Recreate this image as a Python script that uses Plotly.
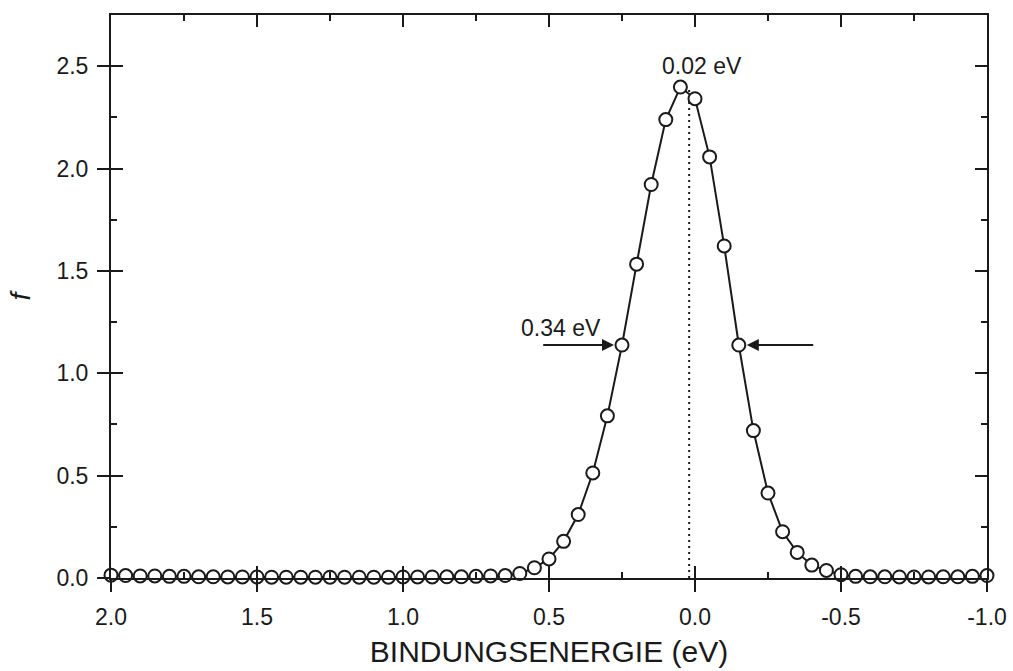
import plotly.graph_objects as go

# Binding energy grid (eV), from 2.0 down to -1.0 in 0.05 eV steps
energy = [
    2.00, 1.95, 1.90, 1.85, 1.80, 1.75, 1.70, 1.65, 1.60, 1.55,
    1.50, 1.45, 1.40, 1.35, 1.30, 1.25, 1.20, 1.15, 1.10, 1.05,
    1.00, 0.95, 0.90, 0.85, 0.80, 0.75, 0.70, 0.65, 0.60, 0.55,
    0.50, 0.45, 0.40, 0.35, 0.30, 0.25, 0.20, 0.15, 0.10, 0.05,
    0.00, -0.05, -0.10, -0.15, -0.20, -0.25, -0.30, -0.35, -0.40, -0.45,
    -0.50, -0.55, -0.60, -0.65, -0.70, -0.75, -0.80, -0.85, -0.90, -0.95,
    -1.00,
]

# Spectral function f at each energy
f_values = [
    0.014, 0.012, 0.010, 0.010, 0.008, 0.008, 0.006, 0.006, 0.005, 0.005,
    0.005, 0.004, 0.004, 0.004, 0.004, 0.004, 0.004, 0.004, 0.004, 0.004,
    0.005, 0.005, 0.005, 0.006, 0.006, 0.008, 0.010, 0.012, 0.022, 0.050,
    0.093, 0.179, 0.310, 0.513, 0.792, 1.138, 1.533, 1.922, 2.239, 2.398,
    2.341, 2.057, 1.622, 1.138, 0.720, 0.415, 0.226, 0.125, 0.063, 0.037,
    0.016, 0.008, 0.006, 0.006, 0.005, 0.005, 0.005, 0.006, 0.006, 0.008,
    0.012,
]

x_tick_vals = [2.0, 1.5, 1.0, 0.5, 0.0, -0.5, -1.0]
x_tick_text = ["2.0", "1.5", "1.0", "0.5", "0.0", "-0.5", "-1.0"]
y_tick_vals = [0.0, 0.5, 1.0, 1.5, 2.0, 2.5]
y_tick_text = ["0.0", "0.5", "1.0", "1.5", "2.0", "2.5"]

peak_shift = 0.02          # eV, marked by the dotted line
width_label = "0.34 eV"
half_left_idx = energy.index(0.25)
half_right_idx = energy.index(-0.15)

X_RANGE = [2.0, -1.0]
Y_RANGE = [0.0, 2.75]
FONT = "Liberation Sans, Arial, sans-serif"
INK = "#1a1a1a"

fig = go.Figure()

# dotted marker line at the peak position
fig.add_trace(go.Scatter(
    x=[peak_shift, peak_shift], y=[0, max(f_values)],
    mode="lines", line=dict(color=INK, width=2, dash="2px,4px"),
    hoverinfo="skip", showlegend=False,
))

# measured spectrum: line with open circles
fig.add_trace(go.Scatter(
    x=energy, y=f_values, mode="lines+markers",
    line=dict(color=INK, width=2),
    marker=dict(symbol="circle", size=13, color="white",
                line=dict(color=INK, width=2)),
    cliponaxis=False, showlegend=False,
))

# empty trace that activates the overlaid inner-tick axes
fig.add_trace(go.Scatter(x=[None], y=[None], xaxis="x2", yaxis="y2",
                         showlegend=False, hoverinfo="skip"))

axis_common = dict(showgrid=False, zeroline=False, color=INK, automargin=False,
                   linecolor=INK, linewidth=2, tickwidth=2, tickcolor=INK)

fig.update_layout(
    width=1013, height=671,
    margin=dict(l=111, r=26, t=15, b=93),
    paper_bgcolor="white", plot_bgcolor="white",
    font=dict(family=FONT, color=INK),
    xaxis=dict(
        range=X_RANGE, tickmode="array", tickvals=x_tick_vals, ticktext=x_tick_text,
        ticks="outside", ticklen=12, showline=True, mirror=True,
        tickfont=dict(size=23, family=FONT), ticklabelstandoff=5,
        title=dict(text="BINDUNGSENERGIE (eV)", font=dict(size=30, family=FONT),
                   standoff=12),
        **axis_common,
    ),
    yaxis=dict(
        range=Y_RANGE, tickmode="array", tickvals=y_tick_vals, ticktext=y_tick_text,
        ticks="outside", ticklen=12, showline=True, mirror=True,
        tickfont=dict(size=23, family=FONT), ticklabelstandoff=4,
        title=dict(text="<i>f</i>", font=dict(size=28, family=FONT), standoff=18),
        **axis_common,
    ),
    xaxis2=dict(
        overlaying="x", side="bottom", range=X_RANGE,
        tickmode="array", tickvals=x_tick_vals, showticklabels=False,
        ticks="inside", ticklen=12, showline=True, mirror="ticks",
        minor=dict(dtick=0.25, tick0=0, ticks="inside", ticklen=6,
                   tickwidth=2, tickcolor=INK),
        **axis_common,
    ),
    yaxis2=dict(
        overlaying="y", side="left", range=Y_RANGE,
        tickmode="array", tickvals=y_tick_vals, showticklabels=False,
        ticks="inside", ticklen=12, showline=True, mirror="ticks",
        minor=dict(dtick=0.25, tick0=0, ticks="inside", ticklen=6,
                   tickwidth=2, tickcolor=INK),
        **axis_common,
    ),
)

# peak-position label
fig.add_annotation(
    x=peak_shift, y=2.50, xref="x", yref="y",
    text=f"{peak_shift:.2f} eV", showarrow=False, xshift=13,
    font=dict(size=23, family=FONT, color=INK),
)

# width label and the two arrows pointing at the half-maximum points
fig.add_annotation(
    x=0.46, y=1.22, xref="x", yref="y", text=width_label, showarrow=False,
    font=dict(size=23, family=FONT, color=INK),
)
fig.add_annotation(
    x=energy[half_left_idx], y=f_values[half_left_idx], xref="x", yref="y",
    ax=0.525, ay=f_values[half_left_idx], axref="x", ayref="y",
    showarrow=True, arrowhead=2, arrowsize=1.2, arrowwidth=2,
    arrowcolor=INK, standoff=8, text="",
)
fig.add_annotation(
    x=energy[half_right_idx], y=f_values[half_right_idx], xref="x", yref="y",
    ax=-0.41, ay=f_values[half_right_idx], axref="x", ayref="y",
    showarrow=True, arrowhead=2, arrowsize=1.2, arrowwidth=2,
    arrowcolor=INK, standoff=8, text="",
)

fig.write_html("out.html")
